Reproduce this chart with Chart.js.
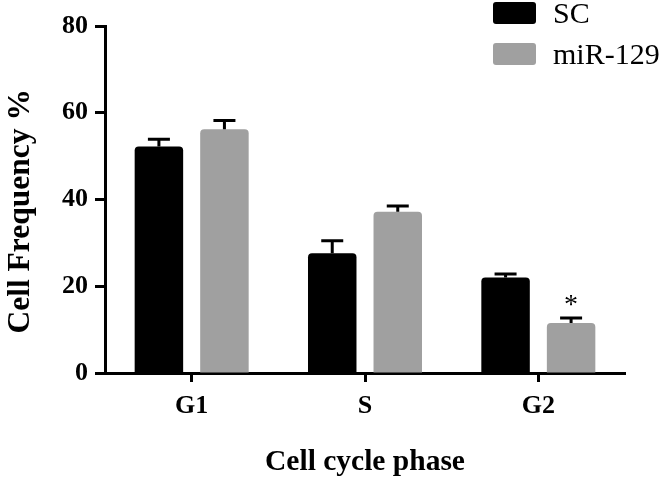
<!DOCTYPE html>
<html>
<head>
<meta charset="utf-8">
<script src="https://cdn.jsdelivr.net/npm/chart.js@4/dist/chart.umd.min.js"></script>
<style>
    html, body { margin: 0; padding: 0; background: #fff; }
    #wrap { position: relative; width: 660px; height: 480px; }
    #legend { position: absolute; left: 493px; top: 2px; font-family: "Liberation Serif", serif; font-size: 30px; color: #000; }
    .legend-item { display: flex; align-items: center; height: 22px; margin-bottom: 19px; white-space: nowrap; }
    .legend-box { width: 43px; height: 22px; border-radius: 3px; margin-right: 17px; }
</style>
</head>
<body>
<div id="wrap">
    <canvas id="chart" width="660" height="480"></canvas>
    <div id="legend"></div>
</div>
<script>
const categories = ["G1", "S", "G2"]

const scValues = [52.2, 27.6, 22.0]
const scErrors = [1.7, 2.9, 0.8]

const mirValues = [56.2, 37.2, 11.5]
const mirErrors = [2.0, 1.3, 1.2]

// significance marks, one per category for each series
const scMarks = ["", "", ""]
const mirMarks = ["", "", "*"]

const yTicks = [0, 20, 40, 60, 80]

const seriesNames = ["SC", "miR-129"]
const seriesColors = ["#000000", "#a0a0a0"]

const serif = "'Liberation Serif', 'Times New Roman', serif"

const errorBars = {
    id: "errorBars",
    afterDatasetsDraw(chart) {
        const ctx = chart.ctx
        const yScale = chart.scales.y
        ctx.save()
        ctx.strokeStyle = "#000"
        ctx.fillStyle = "#000"
        ctx.lineWidth = 3
        chart.data.datasets.forEach((ds, i) => {
            const meta = chart.getDatasetMeta(i)
            meta.data.forEach((bar, j) => {
                const top = yScale.getPixelForValue(ds.data[j] + ds.errors[j])
                ctx.beginPath()
                ctx.moveTo(bar.x, bar.y)
                ctx.lineTo(bar.x, top)
                ctx.moveTo(bar.x - 11, top)
                ctx.lineTo(bar.x + 11, top)
                ctx.stroke()

                if (ds.marks[j]) {
                    ctx.font = "28px " + serif
                    ctx.textAlign = "center"
                    ctx.textBaseline = "alphabetic"
                    ctx.fillText(ds.marks[j], bar.x, top - 5)
                }
            })
        })
        ctx.restore()
    }
}

const ctx = document.getElementById("chart").getContext("2d")

const chart = new Chart(ctx, {
    type: "bar",
    data: {
        labels: categories,
        datasets: [
            {
                label: seriesNames[0],
                data: scValues,
                errors: scErrors,
                marks: scMarks,
                backgroundColor: seriesColors[0],
                borderRadius: { topLeft: 4, topRight: 4 },
                borderSkipped: false,
                categoryPercentage: 0.756,
                barPercentage: 0.74
            },
            {
                label: seriesNames[1],
                data: mirValues,
                errors: mirErrors,
                marks: mirMarks,
                backgroundColor: seriesColors[1],
                borderRadius: { topLeft: 4, topRight: 4 },
                borderSkipped: false,
                categoryPercentage: 0.756,
                barPercentage: 0.74
            }
        ]
    },
    options: {
        responsive: false,
        animation: false,
        layout: {
            padding: { top: 26, right: 35, left: 0, bottom: 0 }
        },
        plugins: {
            legend: { display: false },
            tooltip: { enabled: false }
        },
        scales: {
            x: {
                afterFit(scale) { scale.height = 107 },
                grid: {
                    offset: false,
                    drawOnChartArea: false,
                    drawTicks: true,
                    tickLength: 9,
                    tickWidth: 3,
                    color: "#000"
                },
                border: { display: true, color: "#000", width: 3 },
                ticks: {
                    color: "#000",
                    padding: 9,
                    font: { family: serif, size: 26, weight: "bold" }
                },
                title: {
                    display: true,
                    text: "Cell cycle phase",
                    color: "#000",
                    padding: 0,
                    font: { family: serif, size: 29.5, weight: "bold" }
                }
            },
            y: {
                min: 0,
                max: 80,
                afterFit(scale) { scale.width = 105 },
                afterBuildTicks(scale) {
                    scale.ticks = yTicks.map(v => ({ value: v }))
                },
                grid: {
                    drawOnChartArea: false,
                    drawTicks: true,
                    tickLength: 10,
                    tickWidth: 3,
                    color: "#000"
                },
                border: { display: true, color: "#000", width: 3 },
                ticks: {
                    color: "#000",
                    padding: 7,
                    font: { family: serif, size: 26, weight: "bold" }
                },
                title: {
                    display: true,
                    // trailing spaces nudge the rotated title down a little
                    text: "Cell Frequency %\u00a0\u00a0\u00a0",
                    color: "#000",
                    padding: { top: 2, bottom: 0 },
                    font: { family: serif, size: 31.5, weight: "bold" }
                }
            }
        }
    },
    plugins: [errorBars]
})

// html legend built from the datasets
const legendBox = document.getElementById("legend")
chart.data.datasets.forEach(ds => {
    const item = document.createElement("div")
    item.className = "legend-item"
    const box = document.createElement("span")
    box.className = "legend-box"
    box.style.background = ds.backgroundColor
    const label = document.createElement("span")
    label.innerText = ds.label
    item.appendChild(box)
    item.appendChild(label)
    legendBox.appendChild(item)
})
</script>
</body>
</html>
